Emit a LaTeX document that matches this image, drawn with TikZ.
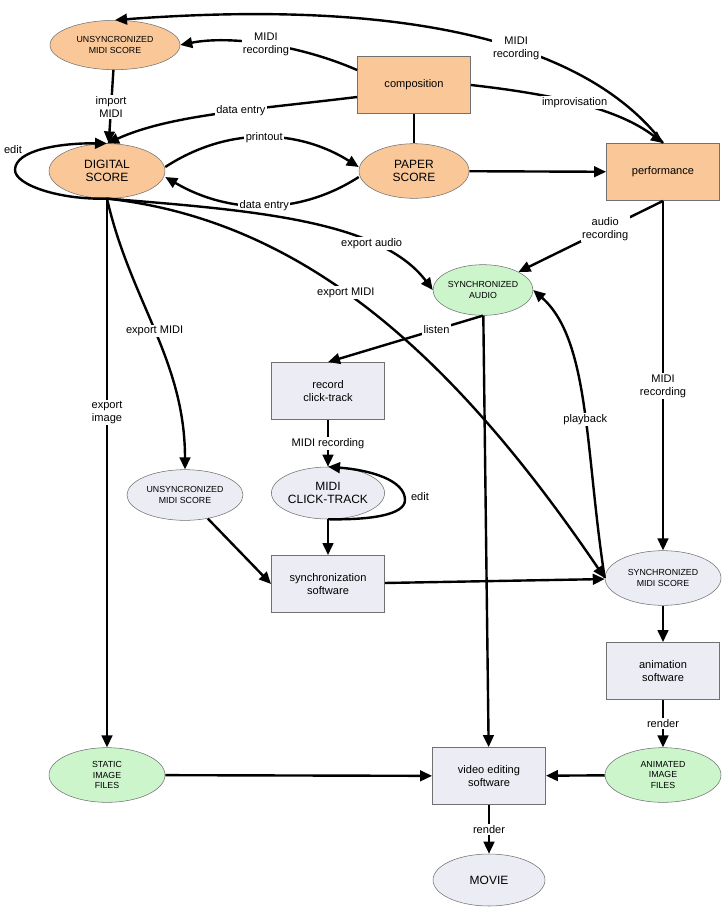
\documentclass[tikz,border=0pt]{standalone}
\usepackage{fontspec}
\setmainfont{Liberation Sans}
\usetikzlibrary{shapes.geometric,arrows.meta}
\definecolor{org}{HTML}{FAC898}
\definecolor{grn}{HTML}{CCF5CC}
\definecolor{gry}{HTML}{ECECF4}
\definecolor{bdr}{HTML}{707070}
\begin{document}
\begin{tikzpicture}[x=0.75pt,y=-0.75pt,
  el/.style={ellipse,draw=bdr,minimum width=#1*0.75pt,align=center,font=\fontsize{9}{10}\selectfont,inner sep=0pt},
  el/.default=114,
  sm/.style={font=\fontsize{6.6}{7.6}\selectfont},
  bx/.style={rectangle,draw=bdr,fill=gry,minimum width=85pt,minimum height=43pt,align=center,font=\fontsize{8.3}{10}\selectfont},
  ar/.style={line width=1.8pt,-{Triangle[length=9pt,width=8pt]}},
  ln/.style={line width=1.8pt},
  lb/.style={fill=white,inner sep=1pt,align=center,font=\fontsize{8.3}{10}\selectfont}]
\useasboundingbox (0,0) rectangle (722,911);
\fill[white] (0,0) rectangle (722,911);
\node[el=130,fill=org,minimum height=37pt,sm] (u1) at (115,45) {UNSYNCRONIZED\\MIDI SCORE};
\node[bx,fill=org] (comp) at (414,85) {composition};
\node[el=116,fill=org,minimum height=41pt] (ds) at (107,171) {DIGITAL\\SCORE};
\node[el=110,fill=org,minimum height=41pt] (ps) at (414,171) {PAPER\\SCORE};
\node[bx,fill=org] (perf) at (663,172) {performance};
\node[el=100,fill=grn,minimum height=38pt,sm] (sa) at (483,290) {SYNCHRONIZED\\AUDIO};
\node[bx] (rec) at (328,391) {record\\click-track};
\node[el=112,fill=gry,minimum height=39pt] (ct) at (328,493) {MIDI\\CLICK-TRACK};
\node[el=116,fill=gry,minimum height=38pt,sm] (u2) at (185,495) {UNSYNCRONIZED\\MIDI SCORE};
\node[bx] (syn) at (328,584) {synchronization\\software};
\node[el=116,fill=gry,minimum height=41pt,sm] (sm) at (663,578) {SYNCHRONIZED\\MIDI SCORE};
\node[bx] (ani) at (663,671) {animation\\software};
\node[el=116,fill=grn,minimum height=41pt,sm] (st) at (107,775) {STATIC\\IMAGE\\FILES};
\node[bx] (vid) at (489,776) {video editing\\software};
\node[el=116,fill=grn,minimum height=41pt,sm] (an) at (663,775) {ANIMATED\\IMAGE\\FILES};
\node[el=112,fill=gry,minimum height=39pt] (mov) at (489,880) {MOVIE};
% edges
\draw[ar] (perf.north) .. controls (600,60) and (450,-5) .. (u1.north) node[lb,pos=0.45] {MIDI\\recording};
\draw[ar] (comp.west|-0,70) .. controls (300,45) and (230,35) .. (u1.east) node[lb,pos=0.5] {MIDI\\recording};
\draw[ar] (comp.west|-0,97) .. controls (250,110) and (170,115) .. (ds.north) node[lb,pos=0.4] {data entry};
\draw[ar] (comp.east) .. controls (560,95) and (620,110) .. (perf.north) node[lb,pos=0.45] {improvisation};
\draw[ln] (comp) -- (ps);
\draw[ar] (u1) -- (ds) node[lb,midway] {import\\MIDI};
\draw[ar] (ds.south) .. controls (60,200) and (15,185) .. (15,170) .. controls (15,150) and (60,143) .. (ds.north);
\node[lb] (e1) at (13,150) {edit};
\draw[ar] (ds.east|-0,167) .. controls (230,125) and (300,130) .. (ps.west|-0,167) node[lb,pos=0.5] {printout};
\draw[ar] (ps.west|-0,177) .. controls (300,215) and (230,215) .. (ds.east|-0,177) node[lb,pos=0.5] {data entry};
\draw[ar] (ps) -- (perf);
\draw[ar] (ds.south) .. controls (250,210) and (380,220) .. (sa.west) node[lb,pos=0.72] {export audio};
\draw[ar] (ds.south) .. controls (300,220) and (450,350) .. (sm.west) node[lb,pos=0.45] {export MIDI};
\draw[ar] (ds.south) .. controls (130,300) and (185,360) .. (u2.north) node[lb,pos=0.5] {export MIDI};
\draw[ar] (ds) -- (st) node[lb,pos=0.39] {export\\image};
\draw[ar] (perf.south) -- (sa.north east) node[lb,pos=0.4] {audio\\recording};
\draw[ar] (perf) -- (sm) node[lb,pos=0.53] {MIDI\\recording};
\draw[ar] (sa.south) -- (rec.north) node[lb,pos=0.3] {listen};
\draw[ar] (sa) -- (vid);
\draw[ar] (rec) -- (ct) node[lb,midway] {MIDI recording};
\draw[ar] (ct.south) .. controls (370,520) and (405,515) .. (405,500) .. controls (405,480) and (370,470) .. (ct.north);
\node[lb] (e2) at (420,497) {edit};
\draw[ar] (ct) -- (syn);
\draw[ar] (u2) -- (syn.west);
\draw[ar] (syn) -- (sm);
\draw[ar] (sm.west) .. controls (585,450) and (590,340) .. (sa.east) node[lb,pos=0.45] {playback};
\draw[ar] (sm) -- (ani);
\draw[ar] (ani) -- (an) node[lb,midway] {render};
\draw[ar] (st) -- (vid);
\draw[ar] (an) -- (vid);
\draw[ar] (vid) -- (mov) node[lb,midway] {render};
\end{tikzpicture}
\end{document}
